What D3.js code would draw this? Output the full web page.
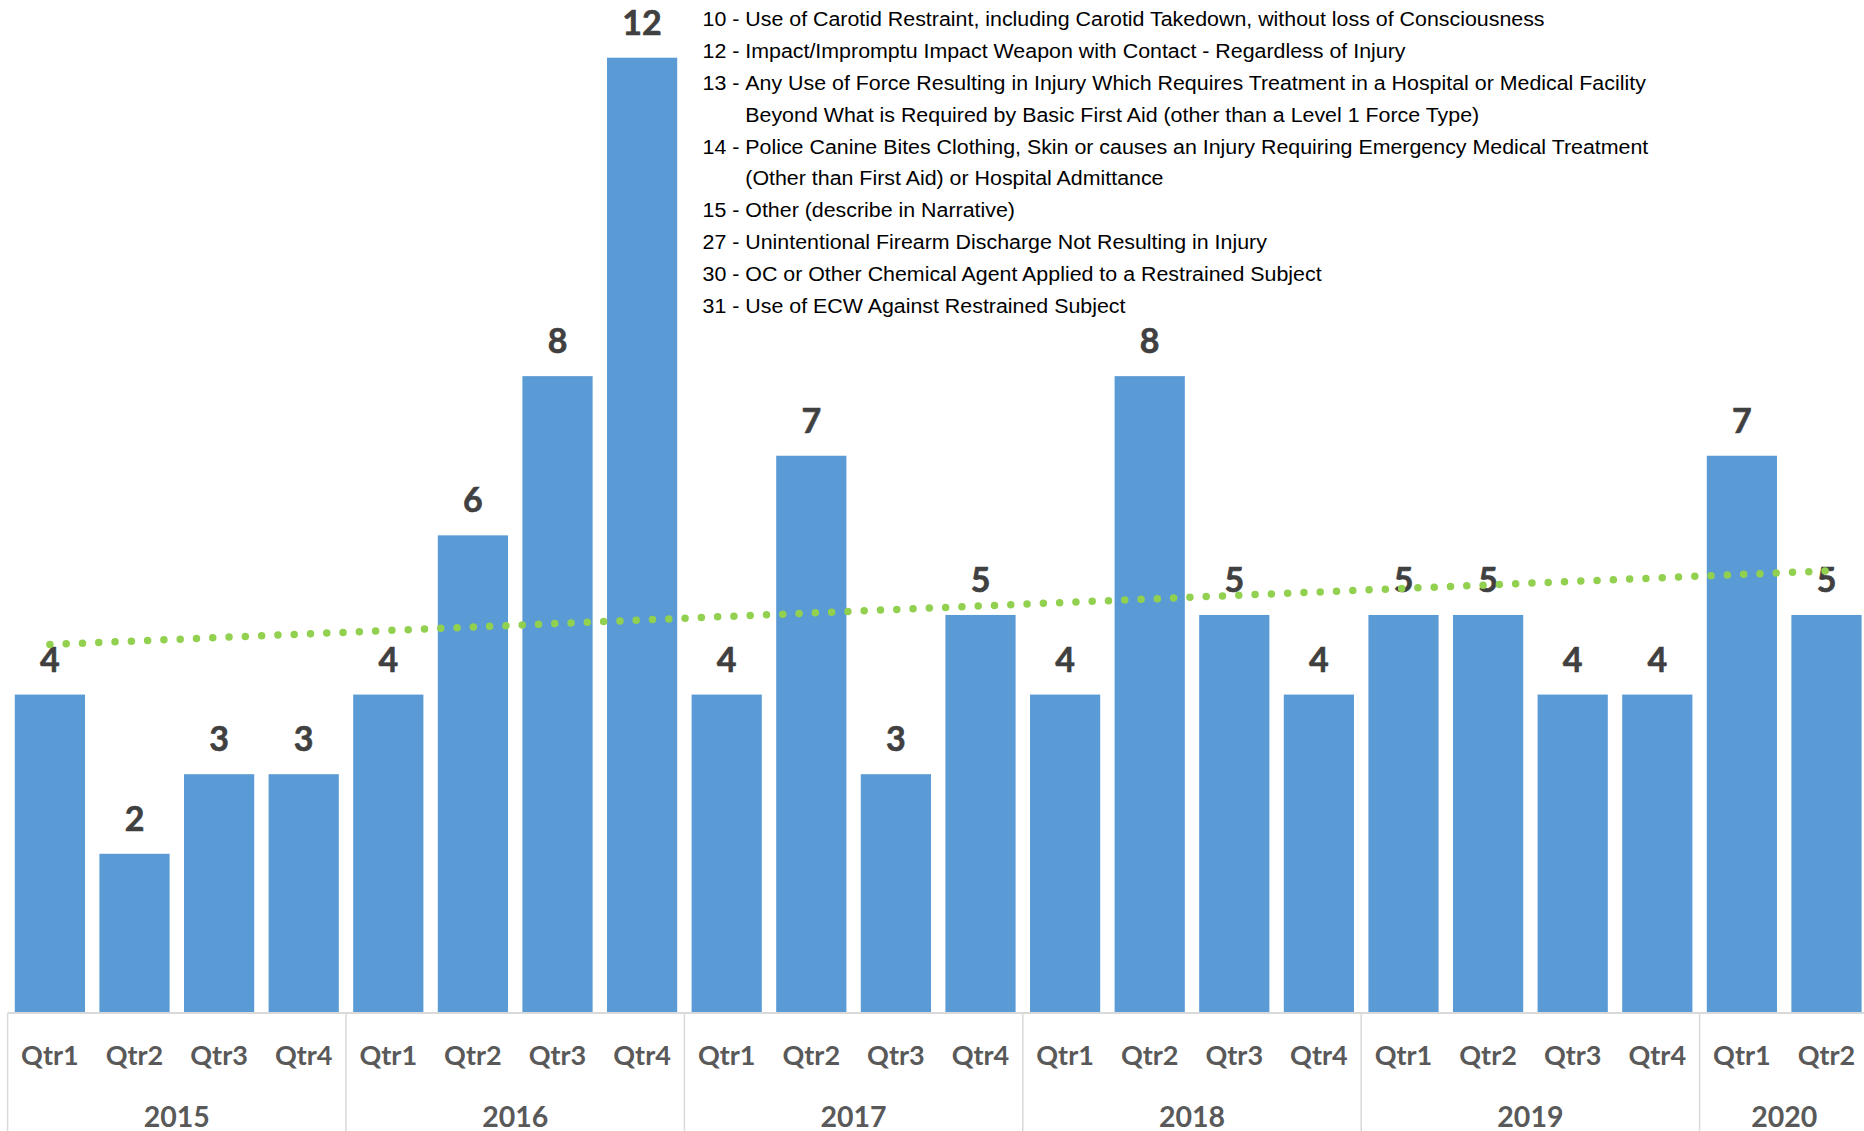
<!DOCTYPE html>
<html>
<head>
<meta charset="utf-8">
<script src="https://cdn.jsdelivr.net/npm/d3@7"></script>
<style>
  html, body { margin: 0; padding: 0; background: #ffffff; overflow: hidden; }
  svg { display: block; }
</style>
</head>
<body>
<svg id="chart" width="1864" height="1131"></svg>
<script>
// Quarterly counts of reportable force types, 2015 Qtr1 – 2020 Qtr2
const years = ["2015", "2016", "2017", "2018", "2019", "2020"];
const quarters = ["Qtr1", "Qtr2", "Qtr3", "Qtr4"];
const quartersPerYear = [4, 4, 4, 4, 4, 2];
const counts = [
  4, 2, 3, 3,     // 2015
  4, 6, 8, 12,    // 2016
  4, 7, 3, 5,     // 2017
  4, 8, 5, 4,     // 2018
  5, 5, 4, 4,     // 2019
  7, 5            // 2020
];

// Force type codes included in the counts (continuation lines are indented)
const forceCodes = ["10", "12", "13", "14", "15", "27", "30", "31"];
const forceDescriptions = [
  ["Use of Carotid Restraint, including Carotid Takedown, without loss of Consciousness"],
  ["Impact/Impromptu Impact Weapon with Contact - Regardless of Injury"],
  ["Any Use of Force Resulting in Injury Which Requires Treatment in a Hospital or Medical Facility",
   "Beyond What is Required by Basic First Aid (other than a Level 1 Force Type)"],
  ["Police Canine Bites Clothing, Skin or causes an Injury Requiring Emergency Medical Treatment",
   "(Other than First Aid) or Hospital Admittance"],
  ["Other (describe in Narrative)"],
  ["Unintentional Firearm Discharge Not Resulting in Injury"],
  ["OC or Other Chemical Agent Applied to a Restrained Subject"],
  ["Use of ECW Against Restrained Subject"]
];

// Build the two-level category list
const categories = [];
years.forEach((yr, i) => {
  for (let q = 0; q < quartersPerYear[i]; q++) {
    categories.push({ year: yr, quarter: quarters[q], key: yr + " " + quarters[q] });
  }
});
const data = categories.map((c, i) => Object.assign({ value: counts[i], index: i }, c));

const svg = d3.select("#chart");

const baseY = 1013;
const x = d3.scaleBand()
  .domain(data.map(d => d.key))
  .range([7.6, 1868.8])
  .paddingInner(0.17)
  .paddingOuter(0.085);

const y = d3.scaleLinear()
  .domain([0, 12])
  .range([baseY, 57.7]);

const barColor = "#5B9BD5";
const labelFont = "Lato, 'Open Sans', sans-serif";

// Bars
svg.append("g")
  .selectAll("rect")
  .data(data)
  .join("rect")
  .attr("x", d => x(d.key))
  .attr("y", d => y(d.value))
  .attr("width", x.bandwidth())
  .attr("height", d => y(0) - y(d.value))
  .attr("fill", barColor);

// Value labels above the bars
svg.append("g")
  .selectAll("text")
  .data(data)
  .join("text")
  .attr("x", d => x(d.key) + x.bandwidth() / 2)
  .attr("y", d => y(d.value) - 23)
  .attr("text-anchor", "middle")
  .attr("font-family", labelFont)
  .attr("font-weight", 700)
  .attr("font-size", 34)
  .attr("fill", "#404040")
  .attr("stroke", "#404040")
  .attr("stroke-width", 0.6)
  .text(d => d.value);

// Linear trendline (least squares over the quarterly counts)
const xs = data.map((d, i) => i + 1);
const meanX = d3.mean(xs);
const meanY = d3.mean(counts);
const slope = d3.sum(xs, (xi, i) => (xi - meanX) * (counts[i] - meanY)) /
              d3.sum(xs, xi => (xi - meanX) * (xi - meanX));
const intercept = meanY - slope * meanX;
const trend = data.map((d, i) => ({ key: d.key, value: intercept + slope * (i + 1) }));

svg.append("path")
  .datum(trend)
  .attr("fill", "none")
  .attr("stroke", "#92D050")
  .attr("stroke-width", 7.5)
  .attr("stroke-linecap", "round")
  .attr("stroke-dasharray", "0 16.3")
  .attr("d", d3.line()
    .x(d => x(d.key) + x.bandwidth() / 2)
    .y(d => y(d.value)));

// Category axis: baseline, group separators, quarter and year labels
const axis = svg.append("g");
const r0 = x.range()[0];
const step = x.step();

axis.append("line")
  .attr("x1", r0).attr("x2", 1864)
  .attr("y1", baseY).attr("y2", baseY)
  .attr("stroke", "#D9D9D9")
  .attr("stroke-width", 2);

let start = 0;
const groups = years.map((yr, i) => {
  const g = { year: yr, start: start, end: start + quartersPerYear[i] };
  start += quartersPerYear[i];
  return g;
});
const boundaries = [0].concat(groups.map(g => g.end));

axis.selectAll("line.sep")
  .data(boundaries)
  .join("line")
  .attr("class", "sep")
  .attr("x1", b => r0 + b * step)
  .attr("x2", b => r0 + b * step)
  .attr("y1", baseY)
  .attr("y2", 1131)
  .attr("stroke", "#D9D9D9")
  .attr("stroke-width", 1.5);

axis.selectAll("text.qtr")
  .data(data)
  .join("text")
  .attr("class", "qtr")
  .attr("x", d => x(d.key) + x.bandwidth() / 2)
  .attr("y", 1065)
  .attr("text-anchor", "middle")
  .attr("font-family", labelFont)
  .attr("font-weight", 700)
  .attr("font-size", 27)
  .attr("fill", "#595959")
  .text(d => d.quarter);

axis.selectAll("text.year")
  .data(groups)
  .join("text")
  .attr("class", "year")
  .attr("x", g => r0 + (g.start + g.end) / 2 * step)
  .attr("y", 1126.5)
  .attr("text-anchor", "middle")
  .attr("font-family", labelFont)
  .attr("font-weight", 700)
  .attr("font-size", 28.5)
  .attr("fill", "#595959")
  .text(g => g.year);

// Force type key, top right
const keyX = 702.5, keyY = 26, lineGap = 31.9;
const key = svg.append("g")
  .attr("transform", `translate(${keyX},${keyY}) scale(1.097,1)`)
  .attr("font-family", "'Liberation Sans', Arial, sans-serif")
  .attr("font-size", 19.5)
  .attr("fill", "#000000");

let row = 0;
forceCodes.forEach((code, i) => {
  const prefix = code + " - ";
  const first = key.append("text")
    .attr("x", 0)
    .attr("y", row * lineGap)
    .attr("xml:space", "preserve");
  const pre = first.append("tspan").text(prefix);
  first.append("tspan").text(forceDescriptions[i][0]);
  const indent = pre.node().getComputedTextLength();
  row++;
  forceDescriptions[i].slice(1).forEach(line => {
    key.append("text")
      .attr("x", indent)
      .attr("y", row * lineGap)
      .text(line);
    row++;
  });
});
</script>
</body>
</html>
